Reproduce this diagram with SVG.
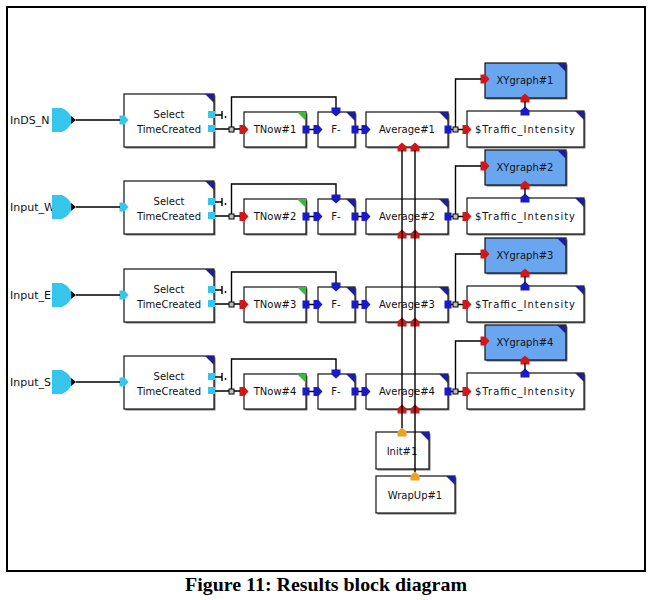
<svg xmlns="http://www.w3.org/2000/svg" width="660" height="600" viewBox="0 0 660 600">
<style>
.bx{fill:#fff;stroke:#111;stroke-width:1.2}
.sh{fill:#777}
.xy{fill:#6aa6f0;stroke:#111;stroke-width:1.2}
.cn{fill:#1e1e96}
.cg{fill:#3cb83c}
.t{font-family:"DejaVu Sans",sans-serif;font-size:10px;text-anchor:middle;fill:#111}
.lbl{font-family:"DejaVu Sans",sans-serif;font-size:11px;fill:#111}
.ln{fill:none;stroke:#000;stroke-width:1.4}
.r{fill:#d01818}.b{fill:#1a1ac8}.c{fill:#36c6ec}.o{fill:#e8a41c}
.j{fill:#c0c0c0;stroke:#000;stroke-width:1}
.cap{font-family:"Liberation Serif",serif;font-weight:bold;font-size:19px;fill:#000}
</style>
<defs>
<path id="ar" d="M-4.5,-4.5 L0.5,-4.5 L4.5,0 L0.5,4.5 L-4.5,4.5 Z"/>
<rect id="sq" x="-3.5" y="-4" width="7" height="8"/>
<g id="term"><path class="ln" d="M215,115 L222,115 M222,111 L222,119"/><circle cx="225.5" cy="117" r="0.9" fill="#000"/></g>
<path id="inshape" d="M52,108 L62,108 Q71,112 72,120 Q71,128 62,132 L52,132 Z"/>
</defs>
<rect x="7" y="7" width="638" height="564" fill="#fff" stroke="#000" stroke-width="2"/>
<text class="cap" x="185" y="591" textLength="282" lengthAdjust="spacingAndGlyphs">Figure 11: Results block diagram</text>

<g id="row1">
<g id="in_N"><text class="lbl" x="10" y="124">InDS_N</text><use href="#inshape" class="c"/><path d="M71,116 L76,120 L71,124 Z"/></g>
<g id="sel1"><rect class="sh" x="125.5" y="95.5" width="90" height="53"/><rect class="bx" x="124" y="94" width="90" height="53"/><path class="cn" d="M205,94 L214,94 L214,103 Z"/><use href="#ar" class="c" x="124" y="120"/><rect class="c" x="208" y="111" width="7" height="7"/><rect class="c" x="208" y="125" width="7" height="7"/><use href="#term"/><text class="t" x="169" y="118">Select</text><text class="t" x="169" y="133">TimeCreated</text></g>
<g id="tnow1"><rect class="sh" x="245.5" y="113.5" width="62" height="35"/><rect class="bx" x="244" y="112" width="62" height="35"/><path class="cg" d="M297,112 L306,112 L306,121 Z"/><use href="#ar" class="r" x="244" y="129.5"/><use href="#sq" class="b" x="306" y="129.5"/><text class="t" x="275" y="133">TNow#1</text></g>
<g id="f1"><rect class="sh" x="319.5" y="113.5" width="37" height="35"/><rect class="bx" x="318" y="112" width="37" height="35"/><path class="cn" d="M346,112 L355,112 L355,121 Z"/><use href="#ar" class="b" x="318" y="129.5"/><use href="#ar" class="b" transform="translate(336,112) rotate(90)"/><use href="#sq" class="b" x="355" y="129.5"/><text class="t" x="336" y="133">F-</text></g>
<g id="avg1"><rect class="sh" x="367.5" y="113.5" width="82" height="35"/><rect class="bx" x="366" y="112" width="82" height="35"/><path class="cn" d="M439,112 L448,112 L448,121 Z"/><use href="#ar" class="b" x="366" y="129.5"/><use href="#sq" class="b" x="448" y="129.5"/><use href="#ar" class="r" transform="translate(402,147) rotate(-90)"/><use href="#ar" class="r" transform="translate(415,147) rotate(-90)"/><text class="t" x="407" y="133">Average#1</text></g>
<g id="ti1"><rect class="sh" x="468.5" y="112.5" width="117" height="36"/><rect class="bx" x="467" y="111" width="117" height="36"/><path class="cn" d="M575,111 L584,111 L584,120 Z"/><use href="#ar" class="r" x="467" y="129.5"/><use href="#ar" class="b" transform="translate(525,111) rotate(-90)"/><text class="t" x="525" y="133" textLength="100" lengthAdjust="spacing">$Traffic_Intensity</text></g>
<g id="xy1"><rect class="sh" x="486.5" y="64.5" width="81" height="35"/><rect class="xy" x="485" y="63" width="81" height="35"/><path class="cn" d="M557,63 L566,63 L566,72 Z"/><use href="#ar" class="r" x="485" y="79"/><use href="#ar" class="r" transform="translate(525,98) rotate(-90)"/><text class="t" x="525" y="84">XYgraph#1</text></g>
</g>

<g id="row2" transform="translate(0,87)">
<g id="in_W"><text class="lbl" x="10" y="124">Input_W</text><use href="#inshape" class="c"/><path d="M71,116 L76,120 L71,124 Z"/></g>
<g id="sel2"><rect class="sh" x="125.5" y="95.5" width="90" height="53"/><rect class="bx" x="124" y="94" width="90" height="53"/><path class="cn" d="M205,94 L214,94 L214,103 Z"/><use href="#ar" class="c" x="124" y="120"/><rect class="c" x="208" y="111" width="7" height="7"/><rect class="c" x="208" y="125" width="7" height="7"/><use href="#term"/><text class="t" x="169" y="118">Select</text><text class="t" x="169" y="133">TimeCreated</text></g>
<g id="tnow2"><rect class="sh" x="245.5" y="113.5" width="62" height="35"/><rect class="bx" x="244" y="112" width="62" height="35"/><path class="cg" d="M297,112 L306,112 L306,121 Z"/><use href="#ar" class="r" x="244" y="129.5"/><use href="#sq" class="b" x="306" y="129.5"/><text class="t" x="275" y="133">TNow#2</text></g>
<g id="f2"><rect class="sh" x="319.5" y="113.5" width="37" height="35"/><rect class="bx" x="318" y="112" width="37" height="35"/><path class="cn" d="M346,112 L355,112 L355,121 Z"/><use href="#ar" class="b" x="318" y="129.5"/><use href="#ar" class="b" transform="translate(336,112) rotate(90)"/><use href="#sq" class="b" x="355" y="129.5"/><text class="t" x="336" y="133">F-</text></g>
<g id="avg2"><rect class="sh" x="367.5" y="113.5" width="82" height="35"/><rect class="bx" x="366" y="112" width="82" height="35"/><path class="cn" d="M439,112 L448,112 L448,121 Z"/><use href="#ar" class="b" x="366" y="129.5"/><use href="#sq" class="b" x="448" y="129.5"/><use href="#ar" class="r" transform="translate(402,147) rotate(-90)"/><use href="#ar" class="r" transform="translate(415,147) rotate(-90)"/><text class="t" x="407" y="133">Average#2</text></g>
<g id="ti2"><rect class="sh" x="468.5" y="112.5" width="117" height="36"/><rect class="bx" x="467" y="111" width="117" height="36"/><path class="cn" d="M575,111 L584,111 L584,120 Z"/><use href="#ar" class="r" x="467" y="129.5"/><use href="#ar" class="b" transform="translate(525,111) rotate(-90)"/><text class="t" x="525" y="133" textLength="100" lengthAdjust="spacing">$Traffic_Intensity</text></g>
<g id="xy2"><rect class="sh" x="486.5" y="64.5" width="81" height="35"/><rect class="xy" x="485" y="63" width="81" height="35"/><path class="cn" d="M557,63 L566,63 L566,72 Z"/><use href="#ar" class="r" x="485" y="79"/><use href="#ar" class="r" transform="translate(525,98) rotate(-90)"/><text class="t" x="525" y="84">XYgraph#2</text></g>
</g>

<g id="row3" transform="translate(0,175)">
<g id="in_E"><text class="lbl" x="10" y="124">Input_E</text><use href="#inshape" class="c"/><path d="M71,116 L76,120 L71,124 Z"/></g>
<g id="sel3"><rect class="sh" x="125.5" y="95.5" width="90" height="53"/><rect class="bx" x="124" y="94" width="90" height="53"/><path class="cn" d="M205,94 L214,94 L214,103 Z"/><use href="#ar" class="c" x="124" y="120"/><rect class="c" x="208" y="111" width="7" height="7"/><rect class="c" x="208" y="125" width="7" height="7"/><use href="#term"/><text class="t" x="169" y="118">Select</text><text class="t" x="169" y="133">TimeCreated</text></g>
<g id="tnow3"><rect class="sh" x="245.5" y="113.5" width="62" height="35"/><rect class="bx" x="244" y="112" width="62" height="35"/><path class="cg" d="M297,112 L306,112 L306,121 Z"/><use href="#ar" class="r" x="244" y="129.5"/><use href="#sq" class="b" x="306" y="129.5"/><text class="t" x="275" y="133">TNow#3</text></g>
<g id="f3"><rect class="sh" x="319.5" y="113.5" width="37" height="35"/><rect class="bx" x="318" y="112" width="37" height="35"/><path class="cn" d="M346,112 L355,112 L355,121 Z"/><use href="#ar" class="b" x="318" y="129.5"/><use href="#ar" class="b" transform="translate(336,112) rotate(90)"/><use href="#sq" class="b" x="355" y="129.5"/><text class="t" x="336" y="133">F-</text></g>
<g id="avg3"><rect class="sh" x="367.5" y="113.5" width="82" height="35"/><rect class="bx" x="366" y="112" width="82" height="35"/><path class="cn" d="M439,112 L448,112 L448,121 Z"/><use href="#ar" class="b" x="366" y="129.5"/><use href="#sq" class="b" x="448" y="129.5"/><use href="#ar" class="r" transform="translate(402,147) rotate(-90)"/><use href="#ar" class="r" transform="translate(415,147) rotate(-90)"/><text class="t" x="407" y="133">Average#3</text></g>
<g id="ti3"><rect class="sh" x="468.5" y="112.5" width="117" height="36"/><rect class="bx" x="467" y="111" width="117" height="36"/><path class="cn" d="M575,111 L584,111 L584,120 Z"/><use href="#ar" class="r" x="467" y="129.5"/><use href="#ar" class="b" transform="translate(525,111) rotate(-90)"/><text class="t" x="525" y="133" textLength="100" lengthAdjust="spacing">$Traffic_Intensity</text></g>
<g id="xy3"><rect class="sh" x="486.5" y="64.5" width="81" height="35"/><rect class="xy" x="485" y="63" width="81" height="35"/><path class="cn" d="M557,63 L566,63 L566,72 Z"/><use href="#ar" class="r" x="485" y="79"/><use href="#ar" class="r" transform="translate(525,98) rotate(-90)"/><text class="t" x="525" y="84">XYgraph#3</text></g>
</g>

<g id="row4" transform="translate(0,262)">
<g id="in_S"><text class="lbl" x="10" y="124">Input_S</text><use href="#inshape" class="c"/><path d="M71,116 L76,120 L71,124 Z"/></g>
<g id="sel4"><rect class="sh" x="125.5" y="95.5" width="90" height="53"/><rect class="bx" x="124" y="94" width="90" height="53"/><path class="cn" d="M205,94 L214,94 L214,103 Z"/><use href="#ar" class="c" x="124" y="120"/><rect class="c" x="208" y="111" width="7" height="7"/><rect class="c" x="208" y="125" width="7" height="7"/><use href="#term"/><text class="t" x="169" y="118">Select</text><text class="t" x="169" y="133">TimeCreated</text></g>
<g id="tnow4"><rect class="sh" x="245.5" y="113.5" width="62" height="35"/><rect class="bx" x="244" y="112" width="62" height="35"/><path class="cg" d="M297,112 L306,112 L306,121 Z"/><use href="#ar" class="r" x="244" y="129.5"/><use href="#sq" class="b" x="306" y="129.5"/><text class="t" x="275" y="133">TNow#4</text></g>
<g id="f4"><rect class="sh" x="319.5" y="113.5" width="37" height="35"/><rect class="bx" x="318" y="112" width="37" height="35"/><path class="cn" d="M346,112 L355,112 L355,121 Z"/><use href="#ar" class="b" x="318" y="129.5"/><use href="#ar" class="b" transform="translate(336,112) rotate(90)"/><use href="#sq" class="b" x="355" y="129.5"/><text class="t" x="336" y="133">F-</text></g>
<g id="avg4"><rect class="sh" x="367.5" y="113.5" width="82" height="35"/><rect class="bx" x="366" y="112" width="82" height="35"/><path class="cn" d="M439,112 L448,112 L448,121 Z"/><use href="#ar" class="b" x="366" y="129.5"/><use href="#sq" class="b" x="448" y="129.5"/><use href="#ar" class="r" transform="translate(402,147) rotate(-90)"/><use href="#ar" class="r" transform="translate(415,147) rotate(-90)"/><text class="t" x="407" y="133">Average#4</text></g>
<g id="ti4"><rect class="sh" x="468.5" y="112.5" width="117" height="36"/><rect class="bx" x="467" y="111" width="117" height="36"/><path class="cn" d="M575,111 L584,111 L584,120 Z"/><use href="#ar" class="r" x="467" y="129.5"/><use href="#ar" class="b" transform="translate(525,111) rotate(-90)"/><text class="t" x="525" y="133" textLength="100" lengthAdjust="spacing">$Traffic_Intensity</text></g>
<g id="xy4"><rect class="sh" x="486.5" y="64.5" width="81" height="35"/><rect class="xy" x="485" y="63" width="81" height="35"/><path class="cn" d="M557,63 L566,63 L566,72 Z"/><use href="#ar" class="r" x="485" y="79"/><use href="#ar" class="r" transform="translate(525,98) rotate(-90)"/><text class="t" x="525" y="84">XYgraph#4</text></g>
</g>

<g id="init1"><rect class="sh" x="377.5" y="433.5" width="53" height="37"/><rect class="bx" x="376" y="432" width="53" height="37"/><path class="cn" d="M420,432 L429,432 L429,441 Z"/><use href="#ar" class="o" transform="translate(402,432) rotate(-90)"/><text class="t" x="402" y="455">Init#1</text></g>
<g id="wrapup1"><rect class="sh" x="377.5" y="477.5" width="79" height="37"/><rect class="bx" x="376" y="476" width="79" height="37"/><path class="cn" d="M446,476 L455,476 L455,485 Z"/><use href="#ar" class="o" transform="translate(415,476) rotate(-90)"/><text class="t" x="415" y="499">WrapUp#1</text></g>

<g id="connectors">
<g id="rowconn">
<path class="ln" d="M76,120 L120,120 M215,129 L240,129 M231.5,129 L231.5,97 L336,97 L336,108 M309,129.5 L314,129.5 M358,129.5 L362,129.5 M451,129.5 L463,129.5 M455.5,129.5 L455.5,79 L481,79 M525,101 L525,108"/>
<rect class="j" x="229" y="127" width="5" height="5"/><rect class="j" x="453" y="127" width="5" height="5"/>
</g>
<use href="#rowconn" transform="translate(0,87)"/>
<use href="#rowconn" transform="translate(0,175)"/>
<use href="#rowconn" transform="translate(0,262)"/>
<path class="ln" d="M402,150 L402,428 M415,150 L415,472"/>
</g>
</svg>
